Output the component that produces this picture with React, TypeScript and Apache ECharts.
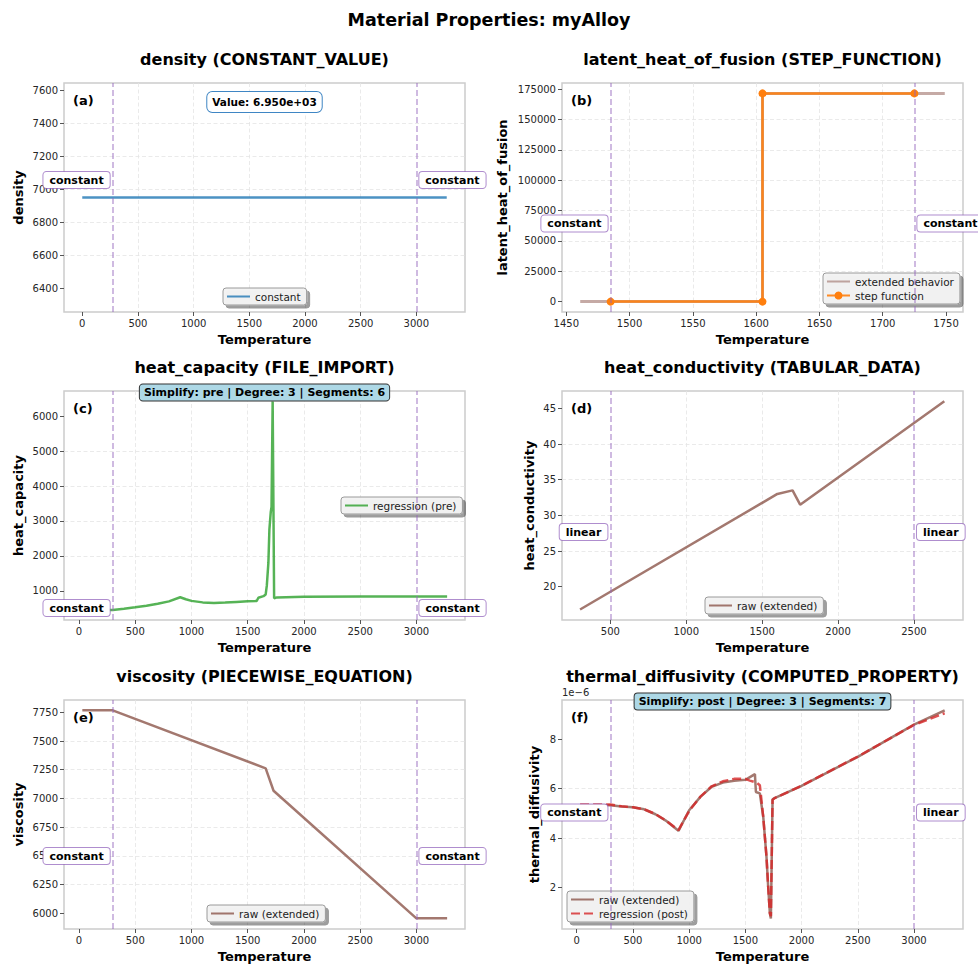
import React, { useEffect, useRef } from 'react';
import * as echarts from 'echarts';

const FONT = 'DejaVu Sans';

// ---------- data ----------
// (a) density
const densityT = [0, 3273];
const densityV = [6950, 6950];
// (b) latent heat of fusion
const lhfExtT = [1461, 1485, 1605, 1605, 1725, 1749];
const lhfExtV = [0, 0, 0, 171500, 171500, 171500];
const lhfStepT = [1485, 1605, 1605, 1725];
const lhfStepV = [0, 0, 171500, 171500];
// (c) heat capacity (regression, pre)
const hcT = [30, 300, 400, 500, 600, 700, 800, 900, 950, 1000, 1100, 1200, 1300, 1400, 1500, 1580, 1595, 1640, 1660, 1670, 1684, 1693, 1705, 1712, 1722, 1735, 1760, 2000, 2500, 3000, 3273];
const hcV = [455, 455, 490, 530, 575, 630, 700, 818, 760, 715, 672, 656, 665, 685, 703, 712, 805, 850, 900, 1150, 1800, 2750, 3250, 3400, 6420, 790, 815, 835, 840, 840, 840];
// (d) heat conductivity
const hkT = [300, 1600, 1700, 1750, 2700];
const hkV = [16.8, 33.0, 33.5, 31.5, 46.0];
// (e) viscosity
const viscT = [30, 300, 1660, 1730, 3000, 3273];
const viscV = [7767, 7767, 7262, 7067, 5957, 5957];
// (f) thermal diffusivity, in units of 1e-6
const tdRawT = [30, 300, 400, 500, 600, 700, 800, 905, 1000, 1100, 1200, 1300, 1400, 1500, 1585, 1594, 1629, 1659, 1688, 1703, 1718, 1727, 1742, 1760, 2000, 2500, 3000, 3273];
const tdRawV = [5.33, 5.33, 5.28, 5.25, 5.17, 4.97, 4.69, 4.30, 5.13, 5.67, 6.08, 6.25, 6.32, 6.36, 6.59, 5.87, 5.81, 4.87, 3.25, 2.04, 0.97, 0.76, 5.57, 5.62, 6.12, 7.29, 8.59, 9.17];
const tdRegT = [30, 300, 400, 500, 600, 700, 800, 905, 1000, 1100, 1200, 1300, 1400, 1500, 1540, 1600, 1629, 1659, 1688, 1703, 1718, 1727, 1742, 1760, 2000, 2500, 3000, 3273];
const tdRegV = [5.36, 5.36, 5.29, 5.25, 5.17, 4.98, 4.70, 4.33, 5.10, 5.68, 6.10, 6.30, 6.40, 6.40, 6.33, 6.25, 6.14, 4.87, 3.25, 2.04, 0.97, 0.85, 5.55, 5.62, 6.12, 7.30, 8.58, 9.05];

// ---------- tick labels ----------
const ticksT3000 = [0, 500, 1000, 1500, 2000, 2500, 3000];
const ticksDensity = [6400, 6600, 6800, 7000, 7200, 7400, 7600];
const ticksLhfT = [1450, 1500, 1550, 1600, 1650, 1700, 1750];
const ticksLhf = [0, 25000, 50000, 75000, 100000, 125000, 150000, 175000];
const ticksHc = [1000, 2000, 3000, 4000, 5000, 6000];
const ticksHkT = [500, 1000, 1500, 2000, 2500];
const ticksHk = [20, 25, 30, 35, 40, 45];
const ticksVisc = [6000, 6250, 6500, 6750, 7000, 7250, 7500, 7750];
const ticksTd = [2, 4, 6, 8];

// ---------- panel setup ----------
const panels = [
  { title: 'density (CONSTANT_VALUE)', letter: '(a)', yName: 'density', yNameGap: 39,
    box: { left: 64, top: 83, width: 401, height: 229 },
    x: [-164, 3437, 500, ticksT3000], y: [6255, 7645, 200, ticksDensity],
    bounds: [273, 3000], boundLabels: ['constant', 'constant'], labelY: 180 },
  { title: 'latent_heat_of_fusion (STEP_FUNCTION)', letter: '(b)', yName: 'latent_heat_of_fusion', yNameGap: 53,
    box: { left: 562, top: 83, width: 401, height: 229 },
    x: [1446.6, 1763.4, 50, ticksLhfT], y: [-8575, 180075, 25000, ticksLhf],
    bounds: [1485, 1725], boundLabels: ['constant', 'constant'], labelY: 223.5 },
  { title: 'heat_capacity (FILE_IMPORT)', letter: '(c)', yName: 'heat_capacity', yNameGap: 39,
    box: { left: 64, top: 391, width: 401, height: 229 },
    x: [-133, 3432, 500, ticksT3000], y: [168, 6717, 1000, ticksHc],
    bounds: [300, 3000], boundLabels: ['constant', 'constant'], labelY: 608 },
  { title: 'heat_conductivity (TABULAR_DATA)', letter: '(d)', yName: 'heat_conductivity', yNameGap: 26,
    box: { left: 562, top: 391, width: 401, height: 229 },
    x: [181, 2823, 500, ticksHkT], y: [15.33, 47.43, 5, ticksHk],
    bounds: [500, 2500], boundLabels: ['linear', 'linear'], labelY: 532 },
  { title: 'viscosity (PIECEWISE_EQUATION)', letter: '(e)', yName: 'viscosity', yNameGap: 39,
    box: { left: 64, top: 700, width: 401, height: 229 },
    x: [-133, 3432, 500, ticksT3000], y: [5864, 7857, 250, ticksVisc],
    bounds: [300, 3000], boundLabels: ['constant', 'constant'], labelY: 856 },
  { title: 'thermal_diffusivity (COMPUTED_PROPERTY)', letter: '(f)', yName: 'thermal_diffusivity', yNameGap: 21,
    box: { left: 562, top: 700, width: 401, height: 229 },
    x: [-131, 3436, 500, ticksT3000], y: [0.333, 9.586, 2, ticksTd],
    bounds: [300, 3000], boundLabels: ['constant', 'linear'], labelY: 812.5 },
];

const pairs = (t: number[], v: number[]) => t.map((x, i) => [x, v[i]]);

const BROWN = '#8c564b';
const PURPLE = '#9467bd';

function markLineFor(i: number) {
  return {
    symbol: ['none', 'none'], silent: true, label: { show: false },
    lineStyle: { color: PURPLE, opacity: 0.6, type: [6, 3], width: 1.5 },
    emphasis: { disabled: true },
    data: panels[i].bounds.map((b) => ({ xAxis: b })),
  };
}

function lineSeries(i: number, name: string, data: number[][], color: string, extra: any = {}) {
  const { lineStyle, itemStyle, ...rest } = extra;
  return {
    type: 'line', name, xAxisIndex: i, yAxisIndex: i, data,
    showSymbol: false, symbol: 'none', animation: false, silent: true,
    lineStyle: { color, width: 2.5, opacity: 0.8, ...(lineStyle || {}) },
    // symbol-less series: hide the symbol in the legend icon, keep the line
    itemStyle: { color, opacity: 0, ...(itemStyle || {}) },
    ...rest,
  };
}

function buildOption() {
  const grids = panels.map((p) => ({
    ...p.box, show: true, borderColor: '#cccccc', borderWidth: 1.5, containLabel: false,
  }));
  const axisCommon = (ticks: number[], interval: number, min: number, max: number) => ({
    type: 'value', min, max, minInterval: interval, maxInterval: interval,
    axisLine: { show: false, onZero: false },
    axisTick: { show: true, length: 4, lineStyle: { color: '#555', width: 1 }, customValues: ticks },
    axisLabel: { customValues: ticks, fontFamily: FONT, fontSize: 10, color: '#262626', margin: 6,
      formatter: (v: number) => String(v) },
    splitLine: { show: true, showMinLine: false, showMaxLine: false,
      lineStyle: { color: '#e4e4e4', type: [4, 2.5], width: 0.8 } },
    nameLocation: 'middle',
    nameTextStyle: { fontFamily: FONT, fontWeight: 'bold', fontSize: 13, color: '#000' },
  });
  const xAxes = panels.map((p, i) => ({
    ...axisCommon(p.x[3] as number[], p.x[2] as number, p.x[0] as number, p.x[1] as number),
    gridIndex: i, name: 'Temperature', nameGap: 21,
  }));
  const yAxes = panels.map((p, i) => ({
    ...axisCommon(p.y[3] as number[], p.y[2] as number, p.y[0] as number, p.y[1] as number),
    gridIndex: i, name: p.yName, nameGap: p.yNameGap,
  }));

  const series: any[] = [
    lineSeries(0, 'constant', pairs(densityT, densityV), '#1f77b4', { markLine: markLineFor(0) }),
    lineSeries(1, 'extended behavior', pairs(lhfExtT, lhfExtV), BROWN,
      { lineStyle: { width: 3, opacity: 0.5 }, markLine: markLineFor(1) }),
    lineSeries(1, 'step function', pairs(lhfStepT, lhfStepV), '#ff7f0e',
      { showSymbol: true, symbol: 'circle', symbolSize: 8, lineStyle: { width: 2.5, opacity: 0.9 }, itemStyle: { opacity: 1 } }),
    lineSeries(2, 'regression (pre)', pairs(hcT, hcV), '#2ca02c', { markLine: markLineFor(2) }),
    lineSeries(3, 'raw (extended)', pairs(hkT, hkV), BROWN, { markLine: markLineFor(3) }),
    lineSeries(4, 'raw (extended)', pairs(viscT, viscV), BROWN, { markLine: markLineFor(4) }),
    lineSeries(5, 'raw (extended)', pairs(tdRawT, tdRawV), BROWN, { markLine: markLineFor(5) }),
    lineSeries(5, 'regression (post)', pairs(tdRegT, tdRegV), '#d62728',
      { lineStyle: { type: [9, 4], width: 2.5, opacity: 0.8 } }),
  ];

  const legendCommon = {
    orient: 'vertical', selectedMode: false,
    backgroundColor: 'rgba(242,242,242,0.95)', borderColor: '#9a9a9a', borderWidth: 1, borderRadius: 3,
    padding: [3, 6, 3, 3], itemWidth: 23, itemHeight: 10, itemGap: 3,
    textStyle: { fontFamily: FONT, fontSize: 10.5, color: '#222' },
    shadowColor: 'rgba(0,0,0,0.4)', shadowOffsetX: 3, shadowOffsetY: 3, shadowBlur: 0,
  };
  const legends = [
    { ...legendCommon, data: ['constant'], left: 223, top: 288 },
    { ...legendCommon, data: ['extended behavior', 'step function'], left: 823, top: 273 },
    { ...legendCommon, data: ['regression (pre)'], left: 341, top: 497 },
    { ...legendCommon, data: ['raw (extended)'], left: 705, top: 597 },
    { ...legendCommon, data: ['raw (extended)'], left: 207, top: 905 },
    { ...legendCommon, data: ['raw (extended)', 'regression (post)'], left: 567, top: 891 },
  ];

  return {
    animation: false,
    backgroundColor: '#ffffff',
    textStyle: { fontFamily: FONT },
    grid: grids, xAxis: xAxes, yAxis: yAxes, series, legend: legends,
  };
}

function buildGraphics(chart: any) {
  const g: any[] = [];
  const text = (t: string, x: number, y: number, font: string, extra: any = {}) => ({
    type: 'text', z: 100, silent: true, x, y,
    style: { text: t, fill: '#000', font, align: 'center', verticalAlign: 'middle', ...extra },
  });
  g.push(text('Material Properties: myAlloy', 489, 20, `bold 17.5px "${FONT}"`));
  panels.forEach((p, i) => {
    const cx = p.box.left + p.box.width / 2;
    g.push(text(p.title, cx, p.box.top - 24, `bold 16px "${FONT}"`));
    g.push(text(p.letter, p.box.left + 9, p.box.top + 17, `bold 13px "${FONT}"`, { align: 'left' }));
    const boxStyle = {
      backgroundColor: '#ffffff', borderColor: 'rgba(148,103,189,0.75)', borderWidth: 1, borderRadius: 3,
      padding: [3, 6, 2, 6],
    };
    const lx = chart.convertToPixel({ xAxisIndex: i }, p.bounds[0]);
    const rx = chart.convertToPixel({ xAxisIndex: i }, p.bounds[1]);
    g.push(text(p.boundLabels[0], lx - 3, p.labelY, `bold 11px "${FONT}"`, { ...boxStyle, align: 'right' }));
    g.push(text(p.boundLabels[1], rx + 3, p.labelY, `bold 11px "${FONT}"`, { ...boxStyle, align: 'left' }));
  });
  // info boxes
  g.push(text('Value: 6.950e+03', 264.5, 102, `bold 10.5px "${FONT}"`, {
    backgroundColor: '#ffffff', borderColor: '#3f86c4', borderWidth: 1, borderRadius: 5, padding: [5, 5, 4, 5],
  }));
  const infoStyle = { backgroundColor: '#add8e6', borderColor: '#333', borderWidth: 1, borderRadius: 3, padding: [3, 4, 2, 4] };
  g.push(text('Simplify: pre | Degree: 3 | Segments: 6', 264.5, 392.5, `bold 11px "${FONT}"`, infoStyle));
  g.push(text('Simplify: post | Degree: 3 | Segments: 7', 762.5, 701.5, `bold 11px "${FONT}"`, infoStyle));
  // offset text
  g.push(text('1e\u22126', 562, 692, `10px "${FONT}"`, { align: 'left', fill: '#262626' }));
  return g;
}

export default function App() {
  const ref = useRef<HTMLDivElement>(null);
  useEffect(() => {
    document.body.style.margin = '0';
    const chart = echarts.init(ref.current!, null, { renderer: 'svg' });
    chart.setOption(buildOption() as any);
    chart.setOption({ graphic: buildGraphics(chart) } as any);
    return () => chart.dispose();
  }, []);
  return <div ref={ref} style={{ width: 978, height: 965 }} />;
}
